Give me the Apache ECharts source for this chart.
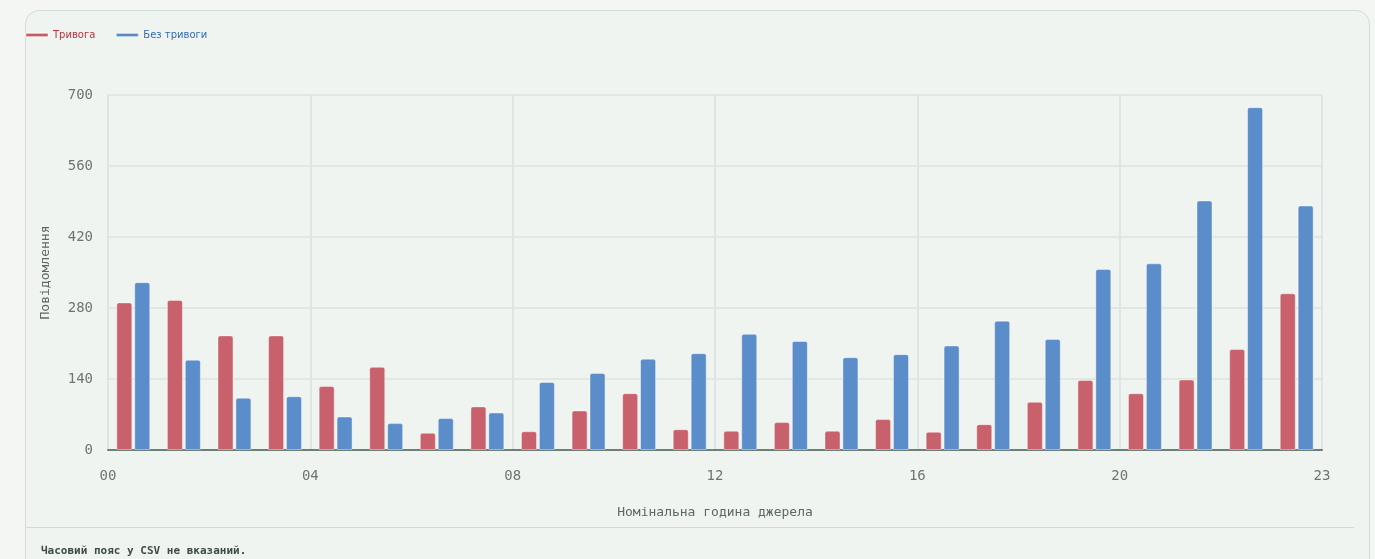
<!DOCTYPE html>
<html lang="uk">
<head>
	<meta charset="UTF-8">
	<title>Повідомлення за годинами</title>
	<script src="https://cdn.jsdelivr.net/npm/echarts@6/dist/echarts.min.js"></script>
	<style>
		html, body { margin: 0; padding: 0; background: #f4f6f3; overflow: hidden; }
		#card {
			position: absolute; left: 25px; top: 10px; width: 1343px; height: 600px;
			border: 1px solid #d2ddd7; border-radius: 14px; background: #f0f4f1;
		}
		#chart { position: absolute; left: 0; top: 0; width: 1375px; height: 559px; }
		#rule { position: absolute; left: 25px; top: 527px; width: 1329px; border-top: 1px solid #cfdbd4; }
		#note {
			position: absolute; left: 41px; top: 544px;
			font: bold 11px "DejaVu Sans Mono", monospace; color: #3d4c46;
		}
	</style>
</head>
<body>
	<div id="card"></div>
	<div id="chart"></div>
	<div id="rule"></div>
	<div id="note">Часовий пояс у CSV не вказаний.</div>

	<script type="text/javascript">
	var hours = ['00','01','02','03','04','05','06','07','08','09','10','11',
	             '12','13','14','15','16','17','18','19','20','21','22','23'];
	var alarm = [291, 296, 226, 226, 126, 164, 34, 86, 37, 78, 112, 41,
	             38, 55, 38, 61, 36, 51, 95, 138, 112, 139, 199, 309];
	var noAlarm = [331, 178, 103, 106, 66, 53, 63, 74, 134, 152, 180, 191,
	               229, 215, 183, 189, 206, 255, 219, 357, 368, 492, 676, 482];
	var xTickLabels = ['00', '04', '08', '12', '16', '20', '23'];

	var mono = '"DejaVu Sans Mono", monospace';
	var chart = echarts.init(document.getElementById('chart'));

	var option = {
		animation: false,
		legend: {
			left: 25,
			top: 30,
			padding: 0,
			icon: 'rect',
			itemWidth: 22,
			itemHeight: 3,
			itemGap: 20,
			textStyle: { fontFamily: '"DejaVu Sans", sans-serif', fontSize: 10 },
			data: [
				{ name: 'Тривога', itemStyle: { color: '#b8323f' }, textStyle: { color: '#b8323f' } },
				{ name: 'Без тривоги', itemStyle: { color: '#2f6cb8' }, textStyle: { color: '#2f6cb8' } }
			]
		},
		grid: { left: 108, right: 53, top: 95, bottom: 109 },
		xAxis: [
			{
				type: 'category',
				data: hours,
				axisTick: { show: false },
				axisLabel: { show: false },
				axisLine: { lineStyle: { color: '#6e7f77', width: 2 } },
				splitLine: { show: true, interval: 3, lineStyle: { color: '#d9e2de', width: 1.5 } }
			},
			{
				type: 'value',
				position: 'bottom',
				min: 0,
				max: 24,
				interval: 4,
				axisLine: { show: false },
				axisTick: { show: false },
				splitLine: { show: false },
				axisLabel: {
					margin: 19,
					fontFamily: mono,
					fontSize: 14,
					color: '#6b7672',
					formatter: function (v) { return xTickLabels[v / 4]; }
				},
				name: 'Номінальна година джерела',
				nameLocation: 'middle',
				nameGap: 56,
				nameTextStyle: { fontFamily: mono, fontSize: 13, color: '#5c6863' }
			}
		],
		yAxis: {
			type: 'value',
			min: 0,
			max: 700,
			interval: 140,
			axisLine: { show: false },
			axisTick: { show: false },
			splitLine: { lineStyle: { color: '#dbe4df', width: 1.5 } },
			axisLabel: { margin: 15, fontFamily: mono, fontSize: 14, color: '#6b7672' },
			name: 'Повідомлення',
			nameLocation: 'middle',
			nameGap: 56,
			nameTextStyle: { fontFamily: mono, fontSize: 13, color: '#5c6863' }
		},
		series: [
			{
				name: 'Тривога',
				type: 'bar',
				data: alarm,
				barWidth: 16,
				barGap: '12%',
				itemStyle: { color: '#c9616c', borderColor: 'rgba(255,255,255,0.4)', borderWidth: 1, borderRadius: [2, 2, 0, 0] }
			},
			{
				name: 'Без тривоги',
				type: 'bar',
				data: noAlarm,
				barWidth: 16,
				barGap: '12%',
				itemStyle: { color: '#5b8dca', borderColor: 'rgba(255,255,255,0.4)', borderWidth: 1, borderRadius: [2, 2, 0, 0] }
			}
		]
	};
	chart.setOption(option);
	</script>
</body>
</html>
